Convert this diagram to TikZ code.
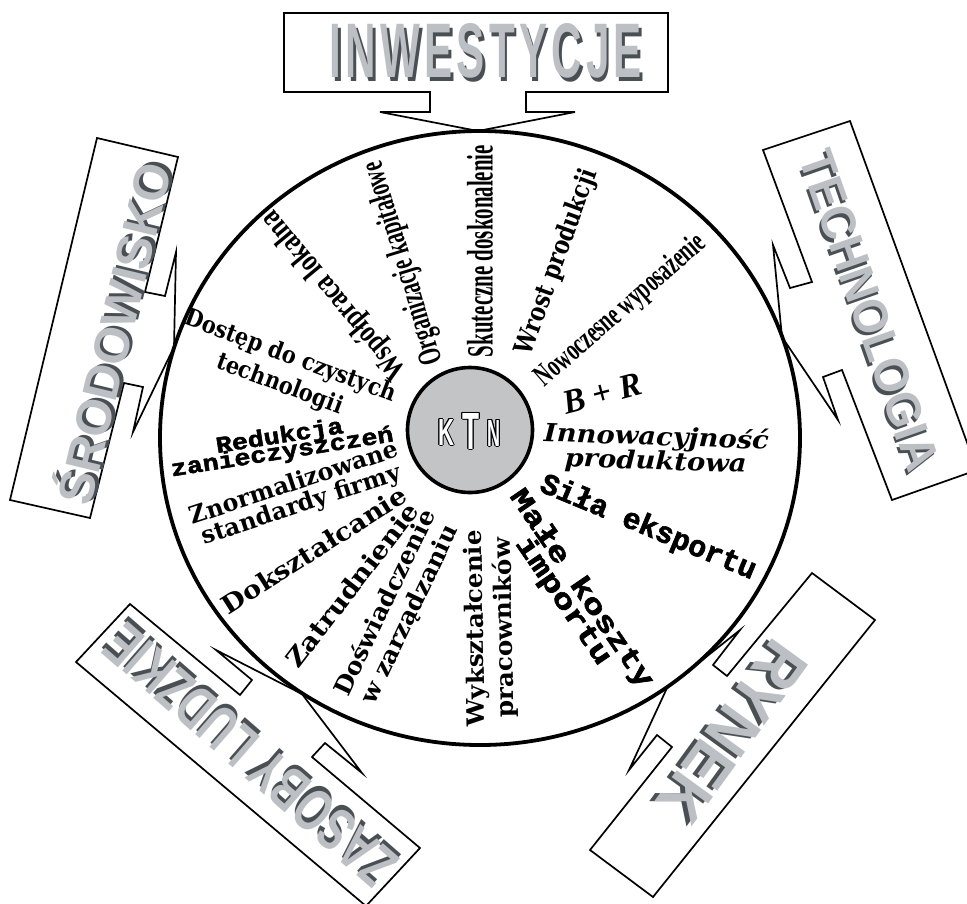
\documentclass[tikz,border=0pt]{standalone}
\usepackage{fontspec}
\usepackage{graphicx}
\usetikzlibrary{shapes.geometric}
\setmainfont{Liberation Serif}
\newfontfamily\condf{Liberation Serif}
\newfontfamily\slabf{DejaVu Serif}
\newfontfamily\monof{Liberation Mono}[BoldFeatures={FakeBold=2}]
\newfontfamily\waf{Liberation Sans}
\newfontfamily\wafls{Liberation Sans}[LetterSpace=10]
\definecolor{wlight}{HTML}{BCC0C4}
\definecolor{wshadow}{HTML}{4A4F54}
\definecolor{ktnfill}{HTML}{C2C4C6}
\newcommand\wordart[1]{\makebox[0pt][l]{\kern0.06em\raisebox{-0.06em}{\textcolor{wshadow}{#1}}}\textcolor{wlight}{#1}}
\newcommand\waword[3]{\resizebox{#1}{#2}{\waf\bfseries\wordart{#3}}}
\newcommand\olay[3]{\makebox[0pt][l]{\kern#1\raisebox{#2}{#3}}}
\newcommand\outl[1]{\olay{-1pt}{0pt}{#1}\olay{1pt}{0pt}{#1}\olay{0pt}{1pt}{#1}\olay{0pt}{-1pt}{#1}\olay{-0.7pt}{0.7pt}{#1}\olay{0.7pt}{0.7pt}{#1}\olay{-0.7pt}{-0.7pt}{#1}\olay{0.7pt}{-0.7pt}{#1}\textcolor{white}{#1}}
\newcommand\lbl[4]{\resizebox{#1}{\height}{#2\fontsize{#3}{#3}\selectfont #4}}
\newcommand\twol[3]{\vbox{\baselineskip=#1\lineskiplimit=-\maxdimen\lineskip=0pt\halign{\hfil##\hfil\cr#2\cr#3\cr}}}
\begin{document}
\begin{tikzpicture}[x=1pt,y=-1pt,
  callout/.style={draw=black,line width=1.7pt,line join=miter},
  lab/.style={inner sep=0pt,outer sep=0pt}]
\useasboundingbox (0,0) rectangle (967,903);
% wheel
\node[ellipse,draw,line width=3.8pt,minimum width=640pt,minimum height=614pt,inner sep=0pt] (wheel) at (480,438) {};
\node[circle,draw,line width=3.6pt,fill=ktnfill,minimum size=125pt,inner sep=0pt] (hub) at (470,430) {};
% callouts
\coordinate (tipI) at (478,131);
\coordinate (tipS) at (174,347);
\coordinate (tipT) at (782,337);
\coordinate (tipZ) at (302,694);
\coordinate (tipR) at (667,688);
\draw[callout] (284,13) -- (668,13) -- (668,92) -- (526,92) -- (526,112) -- (575,112) -- (tipI) -- (380,112) -- (430,112) -- (430,92) -- (284,92) -- cycle;
\draw[callout] (97,138) -- (178,157) -- (145,292) -- (165,296) -- (176,252) -- (tipS) -- (133,432) -- (143,387) -- (124,383) -- (90,518) -- (10,500) -- cycle;
\draw[callout] (763,150) -- (850,121) -- (977,470) -- (892,500) -- (842,370) -- (823,377) -- (838,420) -- (tipT) -- (773,245) -- (790,288) -- (812,282) -- cycle;
\draw[callout] (130,604) -- (240,695) -- (252,680) -- (216,650) -- (tipZ) -- (362,773) -- (325,743) -- (312,757) -- (420,848) -- (366,906) -- (76,662) -- cycle;
\draw[callout] (812,573) -- (875,620) -- (653,897) -- (590,850) -- (672,747) -- (657,735) -- (629,770) -- (tipR) -- (740,630) -- (713,665) -- (727,676) -- cycle;
% word art titles
\node[lab] (inw) at (486,53) {\resizebox{312pt}{54pt}{\wafls\bfseries\wordart{INWESTYCJE}}};
\node[lab,rotate=76.5] (srod) at (112,333) {\waword{350pt}{44pt}{ŚRODOWISKO}};
\node[lab,rotate=-70.7] (tech) at (868,311) {\waword{335pt}{34pt}{TECHNOLOGIA}};
\node[lab,rotate=138.9] (zas) at (252,754) {\waword{365pt}{42pt}{ZASOBY LUDZKIE}};
\node[lab,rotate=-126] (ryn) at (731,731) {\waword{205pt}{45pt}{RYNEK}};
% KTN
\node[lab] (lk) at (446,432) {\outl{\resizebox{16pt}{26pt}{\waf\bfseries K}}};
\node[lab] (lt) at (471,431) {\outl{\resizebox{17pt}{36pt}{\waf\bfseries T}}};
\node[lab] (ln) at (494,433) {\outl{\resizebox{13pt}{26pt}{\waf\bfseries N}}};
% spokes
\node[lab,rotate=90] (sku) at (480,251) {\lbl{212pt}{\condf\bfseries}{37}{Skuteczne doskonalenie}};
\node[lab,rotate=70] (wro) at (557,262) {\lbl{195pt}{\slabf\bfseries}{26}{Wrost produkcji}};
\node[lab,rotate=41] (now) at (621,311) {\lbl{215pt}{\condf\bfseries}{31}{Nowoczesne wyposażenie}};
\node[lab,rotate=107] (org) at (404,263) {\lbl{211pt}{\condf\bfseries}{33}{Organizacje kapitałowe}};
\node[lab,rotate=129.6] (wsp) at (335,295) {\lbl{210pt}{\condf\bfseries}{32}{Współpraca lokalna}};
\node[lab,rotate=-20.5] (dos) at (285,371) {\lbl{223pt}{\slabf\bfseries}{24}{\twol{30pt}{Dostęp do czystych}{technologii}}};
\node[lab,rotate=9] (red) at (281,445) {\lbl{225pt}{\monof\bfseries}{23}{\twol{16pt}{Redukcja}{zanieczyszczeń}}};
\node[lab,rotate=18.3] (zno) at (298,495) {\lbl{218pt}{\slabf\bfseries}{24}{\twol{23pt}{Znormalizowane}{standardy firmy}}};
\node[lab,rotate=32.5] (dok) at (314,550) {\lbl{214pt}{\slabf\bfseries}{25}{Dokształcanie}};
\node[lab,rotate=52.4] (zat) at (352,585) {\lbl{200pt}{\slabf\bfseries}{25}{Zatrudnienie}};
\node[lab,rotate=64.5] (dosw) at (398,609) {\lbl{203pt}{\slabf\bfseries}{24}{\twol{27pt}{Doświadczenie}{w zarządzaniu}}};
\node[lab,rotate=91] (wyk) at (491,628) {\lbl{196pt}{\slabf\bfseries}{24}{\twol{29pt}{Wykształcenie}{pracowników}}};
\node[lab,rotate=-55.7] (mal) at (572,595) {\lbl{234pt}{\monof\bfseries}{28}{\twol{22pt}{Małe koszty}{importu}}};
\node[lab,rotate=-22.6] (sil) at (648,528) {\lbl{231pt}{\monof\bfseries}{30}{Siła eksportu}};
\node[lab,rotate=-2] (inn) at (656,450) {\lbl{225pt}{\slabf\bfseries\itshape}{25}{\twol{24pt}{Innowacyjność}{produktowa}}};
\node[lab,rotate=15] (br) at (602,393) {\lbl{80pt}{\condf\bfseries\itshape}{34}{B + R}};
\end{tikzpicture}
\end{document}
